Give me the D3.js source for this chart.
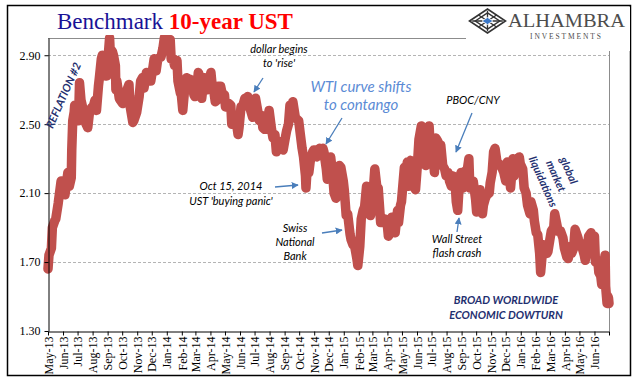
<!DOCTYPE html>
<html><head><meta charset="utf-8">
<script src="https://cdn.jsdelivr.net/npm/d3@7"></script>
<style>body{margin:0;background:#fff}svg{display:block}</style>
</head><body>
<svg id="c" width="641" height="381"></svg>
<script>
// ---- data (10-year UST yield, %) ----
const dates2013 = ["2013-05-01","2013-05-03","2013-05-08","2013-05-10","2013-05-15","2013-05-17","2013-05-22","2013-05-28","2013-05-31",
 "2013-06-05","2013-06-11","2013-06-14","2013-06-18","2013-06-19","2013-06-21","2013-06-24","2013-06-25","2013-06-28",
 "2013-07-03","2013-07-05","2013-07-08","2013-07-12","2013-07-17","2013-07-22","2013-07-26","2013-07-31",
 "2013-08-02","2013-08-06","2013-08-09","2013-08-13","2013-08-15","2013-08-19","2013-08-21","2013-08-23","2013-08-28","2013-08-30",
 "2013-09-05","2013-09-06","2013-09-11","2013-09-13","2013-09-17","2013-09-18","2013-09-20","2013-09-25","2013-09-27",
 "2013-10-02","2013-10-04","2013-10-11","2013-10-15","2013-10-17","2013-10-23","2013-10-25","2013-10-31",
 "2013-11-05","2013-11-08","2013-11-12","2013-11-15","2013-11-20","2013-11-22","2013-11-29",
 "2013-12-04","2013-12-06","2013-12-10","2013-12-13","2013-12-18","2013-12-20","2013-12-24","2013-12-27","2013-12-31"];
const yields2013 = [1.66,1.74,1.78,1.90,1.94,1.95,2.04,2.17,2.16,
 2.09,2.22,2.14,2.19,2.35,2.52,2.57,2.61,2.52,
 2.52,2.74,2.64,2.59,2.51,2.48,2.58,2.60,
 2.60,2.64,2.58,2.72,2.77,2.88,2.90,2.82,2.78,2.78,
 3.00,2.94,2.92,2.90,2.84,2.70,2.75,2.65,2.64,
 2.62,2.65,2.70,2.73,2.61,2.51,2.52,2.57,
 2.66,2.75,2.77,2.71,2.80,2.75,2.75,
 2.84,2.88,2.81,2.87,2.89,2.89,2.94,3.00,3.04];

const dates2014 = ["2014-01-02","2014-01-06","2014-01-08","2014-01-10","2014-01-14","2014-01-17","2014-01-22","2014-01-24","2014-01-29","2014-01-31",
 "2014-02-03","2014-02-07","2014-02-11","2014-02-14","2014-02-19","2014-02-21","2014-02-26","2014-02-28",
 "2014-03-04","2014-03-07","2014-03-11","2014-03-14","2014-03-19","2014-03-21","2014-03-26","2014-03-28",
 "2014-04-02","2014-04-04","2014-04-08","2014-04-11","2014-04-15","2014-04-17","2014-04-22","2014-04-25","2014-04-30",
 "2014-05-02","2014-05-06","2014-05-09","2014-05-13","2014-05-15","2014-05-20","2014-05-23","2014-05-28","2014-05-30",
 "2014-06-03","2014-06-06","2014-06-11","2014-06-13","2014-06-17","2014-06-20","2014-06-24","2014-06-27",
 "2014-07-01","2014-07-03","2014-07-08","2014-07-11","2014-07-16","2014-07-18","2014-07-22","2014-07-25","2014-07-30","2014-07-31",
 "2014-08-05","2014-08-08","2014-08-12","2014-08-15","2014-08-19","2014-08-22","2014-08-27","2014-08-29",
 "2014-09-03","2014-09-05","2014-09-09","2014-09-12","2014-09-16","2014-09-18","2014-09-23","2014-09-26","2014-09-30",
 "2014-10-03","2014-10-07","2014-10-10","2014-10-14","2014-10-15","2014-10-17","2014-10-21","2014-10-24","2014-10-29","2014-10-31",
 "2014-11-04","2014-11-07","2014-11-12","2014-11-14","2014-11-19","2014-11-21","2014-11-26","2014-11-28",
 "2014-12-02","2014-12-05","2014-12-09","2014-12-12","2014-12-16","2014-12-19","2014-12-23","2014-12-26","2014-12-31"];
const yields2014 = [3.00,2.96,2.99,2.88,2.88,2.84,2.87,2.75,2.68,2.67,
 2.58,2.71,2.77,2.75,2.76,2.75,2.67,2.66,
 2.70,2.80,2.77,2.65,2.77,2.75,2.70,2.74,
 2.80,2.74,2.69,2.63,2.64,2.72,2.72,2.68,2.67,
 2.60,2.62,2.62,2.61,2.50,2.51,2.54,2.44,2.48,
 2.60,2.60,2.65,2.61,2.66,2.61,2.57,2.54,
 2.58,2.65,2.57,2.52,2.55,2.48,2.47,2.47,2.56,2.58,
 2.47,2.42,2.44,2.34,2.40,2.40,2.36,2.35,
 2.43,2.46,2.50,2.61,2.59,2.63,2.54,2.53,2.52,
 2.45,2.36,2.31,2.20,2.13,2.22,2.22,2.29,2.34,2.35,
 2.35,2.31,2.36,2.32,2.36,2.34,2.24,2.18,
 2.29,2.31,2.21,2.10,2.07,2.17,2.26,2.25,2.17];

const dates2015 = ["2015-01-02","2015-01-06","2015-01-09","2015-01-14","2015-01-16","2015-01-20","2015-01-23","2015-01-28","2015-01-30",
 "2015-02-03","2015-02-06","2015-02-10","2015-02-13","2015-02-17","2015-02-20","2015-02-25","2015-02-27",
 "2015-03-03","2015-03-06","2015-03-10","2015-03-13","2015-03-18","2015-03-20","2015-03-25","2015-03-27","2015-03-31",
 "2015-04-03","2015-04-07","2015-04-10","2015-04-14","2015-04-17","2015-04-22","2015-04-24","2015-04-28","2015-04-30",
 "2015-05-06","2015-05-08","2015-05-12","2015-05-15","2015-05-19","2015-05-22","2015-05-27","2015-05-29",
 "2015-06-02","2015-06-05","2015-06-10","2015-06-12","2015-06-16","2015-06-19","2015-06-23","2015-06-26","2015-06-29",
 "2015-07-02","2015-07-07","2015-07-10","2015-07-14","2015-07-17","2015-07-20","2015-07-24","2015-07-28","2015-07-31",
 "2015-08-04","2015-08-07","2015-08-11","2015-08-14","2015-08-18","2015-08-21","2015-08-24","2015-08-28","2015-08-31",
 "2015-09-04","2015-09-09","2015-09-11","2015-09-16","2015-09-18","2015-09-22","2015-09-25","2015-09-30",
 "2015-10-02","2015-10-06","2015-10-09","2015-10-14","2015-10-16","2015-10-20","2015-10-23","2015-10-28","2015-10-30",
 "2015-11-03","2015-11-06","2015-11-09","2015-11-13","2015-11-17","2015-11-20","2015-11-24","2015-11-27",
 "2015-12-01","2015-12-04","2015-12-08","2015-12-11","2015-12-16","2015-12-18","2015-12-22","2015-12-29","2015-12-31"];
const yields2015 = [2.12,1.97,1.98,1.86,1.83,1.80,1.80,1.72,1.68,
 1.79,1.95,2.00,2.02,2.14,2.13,1.97,2.00,
 2.12,2.24,2.14,2.13,1.93,1.93,1.93,1.95,1.94,
 1.85,1.87,1.96,1.90,1.87,2.00,1.93,2.03,2.05,
 2.25,2.16,2.28,2.14,2.29,2.21,2.13,2.12,
 2.27,2.41,2.49,2.39,2.32,2.26,2.43,2.49,2.33,
 2.40,2.22,2.42,2.40,2.36,2.38,2.26,2.24,2.20,
 2.22,2.17,2.14,2.20,2.19,2.05,2.00,2.19,2.22,
 2.13,2.23,2.20,2.30,2.13,2.15,2.17,2.06,
 1.99,2.06,2.12,1.98,2.03,2.07,2.09,2.10,2.16,
 2.22,2.34,2.36,2.28,2.27,2.26,2.24,2.22,
 2.17,2.28,2.22,2.13,2.30,2.20,2.24,2.31,2.27];

const dates2016 = ["2016-01-05","2016-01-08","2016-01-12","2016-01-15","2016-01-20","2016-01-22","2016-01-27","2016-01-29",
 "2016-02-02","2016-02-05","2016-02-09","2016-02-11","2016-02-16","2016-02-19","2016-02-24","2016-02-26",
 "2016-03-01","2016-03-04","2016-03-09","2016-03-11","2016-03-16","2016-03-18","2016-03-23","2016-03-28","2016-03-31",
 "2016-04-05","2016-04-08","2016-04-12","2016-04-15","2016-04-19","2016-04-22","2016-04-27","2016-04-29",
 "2016-05-03","2016-05-06","2016-05-11","2016-05-13","2016-05-17","2016-05-20","2016-05-25","2016-05-27",
 "2016-06-01","2016-06-03","2016-06-08","2016-06-10","2016-06-14","2016-06-16","2016-06-20","2016-06-23","2016-06-24",
 "2016-06-27","2016-06-29","2016-06-30","2016-07-01"];
const yields2016 = [2.24,2.13,2.10,2.03,1.98,2.05,2.00,1.94,
 1.87,1.86,1.75,1.64,1.80,1.76,1.75,1.76,
 1.83,1.88,1.90,1.98,1.91,1.88,1.88,1.84,1.78,
 1.73,1.72,1.79,1.75,1.78,1.89,1.85,1.83,
 1.80,1.79,1.74,1.71,1.77,1.85,1.87,1.85,
 1.85,1.70,1.71,1.64,1.62,1.57,1.69,1.74,1.56,
 1.46,1.50,1.49,1.46];

const yTickValues = [1.30, 1.70, 2.10, 2.50, 2.90];
const xStart = "2013-05-01", xEnd = "2016-07-01";

// ---- layout ----
const svg = d3.select("#c");
const L = 48, R = 609, T = 38, B = 331;
const parse = d3.timeParse("%Y-%m-%d");
const dates = [].concat(dates2013, dates2014, dates2015, dates2016).map(parse);
const yields = [].concat(yields2013, yields2014, yields2015, yields2016);
const data = dates.map((d, i) => ({d, v: yields[i]}));

const x = d3.scaleTime().domain([parse(xStart), parse(xEnd)]).range([L, R]);
const y = d3.scaleLinear().domain([1.3, 3.0]).range([B, T]);

svg.append("rect").attr("width", 641).attr("height", 381).attr("fill", "#fff");

// gridlines
svg.append("g").selectAll("line").data(yTickValues.slice(1)).join("line")
  .attr("x1", L).attr("x2", R).attr("y1", d => Math.round(y(d)) + 0.5).attr("y2", d => Math.round(y(d)) + 0.5)
  .attr("stroke", "#b4b4b4").attr("stroke-width", 1).attr("stroke-dasharray", "3,2");

// plot border (top/right)
svg.append("line").attr("x1", L).attr("x2", R).attr("y1", T + 0.5).attr("y2", T + 0.5).attr("stroke", "#8c8c8c");
svg.append("line").attr("x1", R + 0.5).attr("x2", R + 0.5).attr("y1", T).attr("y2", B).attr("stroke", "#8c8c8c");

// series
svg.append("clipPath").attr("id", "clip").append("rect").attr("x", L - 6).attr("y", T - 3).attr("width", R - L + 12).attr("height", B - T + 10);
svg.append("path").datum(data)
  .attr("clip-path", "url(#clip)")
  .attr("d", d3.line().x(d => x(d.d)).y(d => y(d.v)))
  .attr("fill", "none").attr("stroke", "#c0504d").attr("stroke-width", 9.5)
  .attr("stroke-linejoin", "round").attr("stroke-linecap", "round");

// y axis
const yAxis = svg.append("g").attr("transform", `translate(${L + 0.5},0)`)
  .call(d3.axisLeft(y).tickValues(yTickValues).tickFormat(d3.format(".2f")).tickSize(4).tickSizeOuter(0));
yAxis.select(".domain").attr("stroke", "#000");
yAxis.selectAll("text").attr("font-family", "Liberation Serif").attr("font-size", 12).attr("fill", "#000").attr("x", -8);

// x axis
const monthTicks = d3.timeMonth.range(parse(xStart), d3.timeDay.offset(parse(xEnd), 1));
const fmt = d3.timeFormat("%b-%y");
const xAxis = svg.append("g").attr("transform", `translate(0,${B + 0.5})`)
  .call(d3.axisBottom(x).tickValues(monthTicks).tickFormat((d, i) => i === monthTicks.length - 1 ? "" : fmt(d)).tickSize(4).tickSizeOuter(0));
xAxis.select(".domain").attr("stroke", "#000");
xAxis.selectAll("text").attr("font-family", "Liberation Serif").attr("font-size", 12).attr("fill", "#000")
  .attr("transform", "rotate(-90)").attr("text-anchor", "end").attr("x", -5).attr("y", 0).attr("dy", "0.35em");

// outer frame
svg.append("rect").attr("x", 7.5).attr("y", 5.5).attr("width", 623).attr("height", 370)
  .attr("fill", "none").attr("stroke", "#000").attr("stroke-width", 1.5);

// title
const title = svg.append("text").attr("x", 57).attr("y", 29).attr("font-family", "Liberation Serif").attr("font-size", 23);
title.append("tspan").attr("fill", "#1a1296").text("Benchmark ");
title.append("tspan").attr("fill", "#ff0000").attr("font-weight", "bold").text("10-year UST");

// logo
const logo = svg.append("g");
logo.append("rect").attr("x", 466).attr("y", 7).attr("width", 164).attr("height", 44).attr("fill", "#fff");
const cx = 487.5, cy = 21, hw = 18, hh = 12;
const dia = (w, h) => `M${cx - w},${cy}L${cx},${cy - h}L${cx + w},${cy}L${cx},${cy + h}Z`;
logo.append("path").attr("d", dia(hw, hh)).attr("fill", "#fff").attr("stroke", "#333").attr("stroke-width", 1.6);
logo.append("path").attr("d", dia(hw * 0.68, hh * 0.68)).attr("fill", "none").attr("stroke", "#333").attr("stroke-width", 1.4);
logo.append("path").attr("d", `M${cx - hw*0.5},${cy - hh*0.5}L${cx + hw*0.5},${cy + hh*0.5}M${cx + hw*0.5},${cy - hh*0.5}L${cx - hw*0.5},${cy + hh*0.5}M${cx-hw*0.85},${cy}L${cx+hw*0.85},${cy}M${cx},${cy-hh*0.85}L${cx},${cy+hh*0.85}`)
  .attr("stroke", "#333").attr("stroke-width", 1.3);
logo.append("path").attr("d", dia(hw * 0.3, hh * 0.3)).attr("fill", "#3b78c8").attr("stroke", "#fff").attr("stroke-width", 0.8);
logo.append("text").attr("x", 508).attr("y", 27).attr("font-family", "Liberation Serif").attr("font-size", 19)
  .attr("fill", "#4d4d4d").attr("textLength", 117).attr("lengthAdjust", "spacingAndGlyphs").text("ALHAMBRA");
logo.append("text").attr("x", 530).attr("y", 39).attr("font-family", "Liberation Serif").attr("font-size", 7.5)
  .attr("fill", "#4d4d4d").attr("textLength", 71).text("INVESTMENTS");

// annotations
const defs = svg.append("defs");
defs.append("marker").attr("id", "ah").attr("viewBox", "0 0 10 10").attr("refX", 9).attr("refY", 5)
  .attr("markerWidth", 7).attr("markerHeight", 7).attr("markerUnits", "userSpaceOnUse").attr("orient", "auto")
  .append("path").attr("d", "M0,0L10,5L0,10Z").attr("fill", "#4a7ebb");
const arrow = (x1, y1, x2, y2) => svg.append("line").attr("x1", x1).attr("y1", y1).attr("x2", x2).attr("y2", y2)
  .attr("stroke", "#4a7ebb").attr("stroke-width", 1.3).attr("marker-end", "url(#ah)");
const note = (lines, cxp, y0, dy, opts = {}) => {
  const t = svg.append("text").attr("text-anchor", "middle").attr("font-family", "Lato")
    .attr("font-style", "italic").attr("font-size", opts.size || 11).attr("fill", opts.fill || "#000")
    .attr("font-weight", opts.weight || "normal");
  lines.forEach((s, i) => t.append("tspan").attr("x", cxp).attr("y", y0 + i * dy).text(s));
  return t;
};
note(["dollar begins", "to 'rise'"], 279, 53, 14);
arrow(263, 78, 254, 92);
note(["WTI curve shifts", "to contango"], 361, 92, 18, {size: 15, fill: "#5b8bd5"});
arrow(342, 118, 326, 144);
note(["Oct 15, 2014", "UST 'buying panic'"], 231, 190, 15);
arrow(275, 187, 298, 185);
note(["Swiss", "National", "Bank"], 295, 232, 14);
arrow(322, 233, 342, 230);
note(["PBOC/CNY"], 473, 104, 14);
arrow(472, 113, 456, 152);
note(["Wall Street", "flash crash"], 457, 243, 14);
arrow(457, 232, 459, 218);
note(["BROAD WORLDWIDE", "ECONOMIC DOWTURN"], 506, 304, 15, {fill: "#1f3070", weight: "bold"});

svg.append("text").attr("transform", "translate(67,97) rotate(-66)").attr("text-anchor", "middle")
  .attr("font-family", "Lato").attr("font-style", "italic").attr("font-weight", "bold").attr("font-size", 11)
  .attr("fill", "#1f3070").text("REFLATION #2");
const gl = svg.append("text").attr("transform", "translate(556,176) rotate(66)").attr("text-anchor", "middle")
  .attr("font-family", "Lato").attr("font-style", "italic").attr("font-weight", "bold").attr("font-size", 11).attr("fill", "#1f3070");
["global", "market", "liquidations"].forEach((s, i) => gl.append("tspan").attr("x", 0).attr("y", -10 + i * 14).text(s));
</script>
</body></html>
